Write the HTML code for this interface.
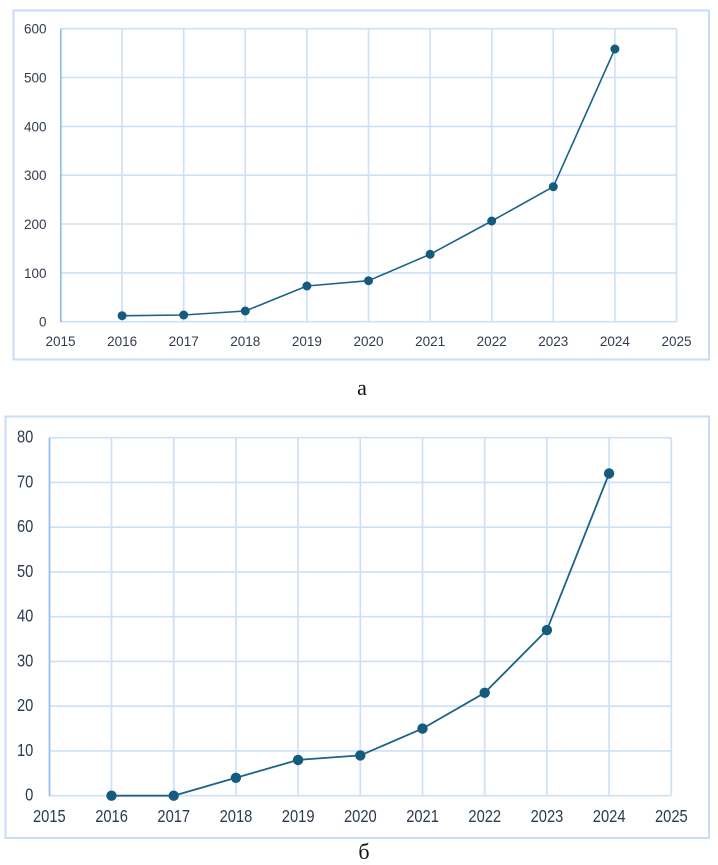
<!DOCTYPE html>
<html>
<head>
<meta charset="utf-8">
<style>
  html,body{margin:0;padding:0;background:#fff;}
  svg{display:block;}
</style>
</head>
<body>
<svg width="718" height="865" viewBox="0 0 718 865" xmlns="http://www.w3.org/2000/svg">
  <rect x="0" y="0" width="718" height="865" fill="#ffffff"/>

  <!-- ===== Chart A ===== -->
  <rect x="13.5" y="10.5" width="695.5" height="349" fill="none" stroke="#c9ddf4" stroke-width="2"/>
  <g stroke="#cde0f6" stroke-width="1.6">
    <!-- horizontal gridlines -->
    <line x1="60.5" y1="321.7" x2="676.5" y2="321.7"/>
    <line x1="60.5" y1="272.9" x2="676.5" y2="272.9"/>
    <line x1="60.5" y1="224.0" x2="676.5" y2="224.0"/>
    <line x1="60.5" y1="175.2" x2="676.5" y2="175.2"/>
    <line x1="60.5" y1="126.4" x2="676.5" y2="126.4"/>
    <line x1="60.5" y1="77.5" x2="676.5" y2="77.5"/>
    <line x1="60.5" y1="28.7" x2="676.5" y2="28.7"/>
    <!-- vertical gridlines -->
    <line x1="122.1" y1="28.7" x2="122.1" y2="321.7"/>
    <line x1="183.7" y1="28.7" x2="183.7" y2="321.7"/>
    <line x1="245.3" y1="28.7" x2="245.3" y2="321.7"/>
    <line x1="306.9" y1="28.7" x2="306.9" y2="321.7"/>
    <line x1="368.5" y1="28.7" x2="368.5" y2="321.7"/>
    <line x1="430.1" y1="28.7" x2="430.1" y2="321.7"/>
    <line x1="491.7" y1="28.7" x2="491.7" y2="321.7"/>
    <line x1="553.3" y1="28.7" x2="553.3" y2="321.7"/>
    <line x1="614.9" y1="28.7" x2="614.9" y2="321.7"/>
    <line x1="676.5" y1="28.7" x2="676.5" y2="321.7"/>
  </g>
  <line x1="60.8" y1="28.7" x2="60.8" y2="322" stroke="#8dbbea" stroke-width="1.6"/>

  <g font-family="'Liberation Sans', Arial, sans-serif" font-size="13.5" fill="#323c4f" text-anchor="end">
    <text x="46.5" y="326.6">0</text>
    <text x="46.5" y="277.8">100</text>
    <text x="46.5" y="228.9">200</text>
    <text x="46.5" y="180.1">300</text>
    <text x="46.5" y="131.3">400</text>
    <text x="46.5" y="82.4">500</text>
    <text x="46.5" y="33.6">600</text>
  </g>
  <g font-family="'Liberation Sans', Arial, sans-serif" font-size="13.5" fill="#323c4f" text-anchor="middle">
    <text x="60.5" y="346">2015</text>
    <text x="122.1" y="346">2016</text>
    <text x="183.7" y="346">2017</text>
    <text x="245.3" y="346">2018</text>
    <text x="306.9" y="346">2019</text>
    <text x="368.5" y="346">2020</text>
    <text x="430.1" y="346">2021</text>
    <text x="491.7" y="346">2022</text>
    <text x="553.3" y="346">2023</text>
    <text x="614.9" y="346">2024</text>
    <text x="676.5" y="346">2025</text>
  </g>

  <polyline fill="none" stroke="#1d6386" stroke-width="1.6" stroke-linejoin="round"
    points="122.1,315.7 183.7,315.0 245.3,311.0 306.9,286.0 368.5,280.7 430.1,254.3 491.7,221.0 553.3,186.7 614.9,49.0"/>
  <g fill="#155b7e">
    <circle cx="122.1" cy="315.7" r="4.5"/>
    <circle cx="183.7" cy="315.0" r="4.5"/>
    <circle cx="245.3" cy="311.0" r="4.5"/>
    <circle cx="306.9" cy="286.0" r="4.5"/>
    <circle cx="368.5" cy="280.7" r="4.5"/>
    <circle cx="430.1" cy="254.3" r="4.5"/>
    <circle cx="491.7" cy="221.0" r="4.5"/>
    <circle cx="553.3" cy="186.7" r="4.5"/>
    <circle cx="614.9" cy="49.0" r="4.5"/>
  </g>

  <text x="362" y="395" font-family="'Liberation Serif', 'Times New Roman', serif" font-size="22" fill="#111" text-anchor="middle">а</text>

  <!-- ===== Chart B ===== -->
  <rect x="5.5" y="416.5" width="703.5" height="421.5" fill="none" stroke="#c9ddf4" stroke-width="2"/>
  <g stroke="#cde0f6" stroke-width="1.7">
    <line x1="49.3" y1="795.7" x2="671.3" y2="795.7"/>
    <line x1="49.3" y1="750.95" x2="671.3" y2="750.95"/>
    <line x1="49.3" y1="706.2" x2="671.3" y2="706.2"/>
    <line x1="49.3" y1="661.45" x2="671.3" y2="661.45"/>
    <line x1="49.3" y1="616.7" x2="671.3" y2="616.7"/>
    <line x1="49.3" y1="571.95" x2="671.3" y2="571.95"/>
    <line x1="49.3" y1="527.2" x2="671.3" y2="527.2"/>
    <line x1="49.3" y1="482.45" x2="671.3" y2="482.45"/>
    <line x1="49.3" y1="437.7" x2="671.3" y2="437.7"/>
    <line x1="111.5" y1="437.7" x2="111.5" y2="795.7"/>
    <line x1="173.7" y1="437.7" x2="173.7" y2="795.7"/>
    <line x1="235.9" y1="437.7" x2="235.9" y2="795.7"/>
    <line x1="298.1" y1="437.7" x2="298.1" y2="795.7"/>
    <line x1="360.3" y1="437.7" x2="360.3" y2="795.7"/>
    <line x1="422.5" y1="437.7" x2="422.5" y2="795.7"/>
    <line x1="484.7" y1="437.7" x2="484.7" y2="795.7"/>
    <line x1="546.9" y1="437.7" x2="546.9" y2="795.7"/>
    <line x1="609.1" y1="437.7" x2="609.1" y2="795.7"/>
    <line x1="671.3" y1="437.7" x2="671.3" y2="795.7"/>
  </g>
  <line x1="49.5" y1="437.7" x2="49.5" y2="796" stroke="#8dbbea" stroke-width="1.7"/>

  <g font-family="'Liberation Sans', Arial, sans-serif" font-size="17.5" fill="#2b3a50" text-anchor="end">
    <text x="33.3" y="800.7" textLength="8.2" lengthAdjust="spacingAndGlyphs">0</text>
    <text x="33.3" y="755.9" textLength="16.3" lengthAdjust="spacingAndGlyphs">10</text>
    <text x="33.3" y="711.2" textLength="16.3" lengthAdjust="spacingAndGlyphs">20</text>
    <text x="33.3" y="666.4" textLength="16.3" lengthAdjust="spacingAndGlyphs">30</text>
    <text x="33.3" y="621.7" textLength="16.3" lengthAdjust="spacingAndGlyphs">40</text>
    <text x="33.3" y="576.9" textLength="16.3" lengthAdjust="spacingAndGlyphs">50</text>
    <text x="33.3" y="532.2" textLength="16.3" lengthAdjust="spacingAndGlyphs">60</text>
    <text x="33.3" y="487.4" textLength="16.3" lengthAdjust="spacingAndGlyphs">70</text>
    <text x="33.3" y="442.7" textLength="16.3" lengthAdjust="spacingAndGlyphs">80</text>
  </g>
  <g font-family="'Liberation Sans', Arial, sans-serif" font-size="17.5" fill="#2b3a50">
    <text x="33.0" y="822" textLength="32.7" lengthAdjust="spacingAndGlyphs">2015</text>
    <text x="95.2" y="822" textLength="32.7" lengthAdjust="spacingAndGlyphs">2016</text>
    <text x="157.4" y="822" textLength="32.7" lengthAdjust="spacingAndGlyphs">2017</text>
    <text x="219.6" y="822" textLength="32.7" lengthAdjust="spacingAndGlyphs">2018</text>
    <text x="281.8" y="822" textLength="32.7" lengthAdjust="spacingAndGlyphs">2019</text>
    <text x="344.0" y="822" textLength="32.7" lengthAdjust="spacingAndGlyphs">2020</text>
    <text x="406.2" y="822" textLength="32.7" lengthAdjust="spacingAndGlyphs">2021</text>
    <text x="468.4" y="822" textLength="32.7" lengthAdjust="spacingAndGlyphs">2022</text>
    <text x="530.6" y="822" textLength="32.7" lengthAdjust="spacingAndGlyphs">2023</text>
    <text x="592.8" y="822" textLength="32.7" lengthAdjust="spacingAndGlyphs">2024</text>
    <text x="655.0" y="822" textLength="32.7" lengthAdjust="spacingAndGlyphs">2025</text>
  </g>

  <polyline fill="none" stroke="#1d6386" stroke-width="1.8" stroke-linejoin="round"
    points="111.5,795.7 173.7,795.7 235.9,777.8 298.1,759.9 360.3,755.4 422.5,728.6 484.7,692.8 546.9,630.1 609.1,473.5"/>
  <g fill="#155b7e">
    <circle cx="111.5" cy="795.7" r="5.2"/>
    <circle cx="173.7" cy="795.7" r="5.2"/>
    <circle cx="235.9" cy="777.8" r="5.2"/>
    <circle cx="298.1" cy="759.9" r="5.2"/>
    <circle cx="360.3" cy="755.4" r="5.2"/>
    <circle cx="422.5" cy="728.6" r="5.2"/>
    <circle cx="484.7" cy="692.8" r="5.2"/>
    <circle cx="546.9" cy="630.1" r="5.2"/>
    <circle cx="609.1" cy="473.5" r="5.2"/>
  </g>

  <text x="364" y="859" font-family="'Liberation Serif', 'Times New Roman', serif" font-size="22" fill="#111" text-anchor="middle">б</text>
</svg>
</body>
</html>
